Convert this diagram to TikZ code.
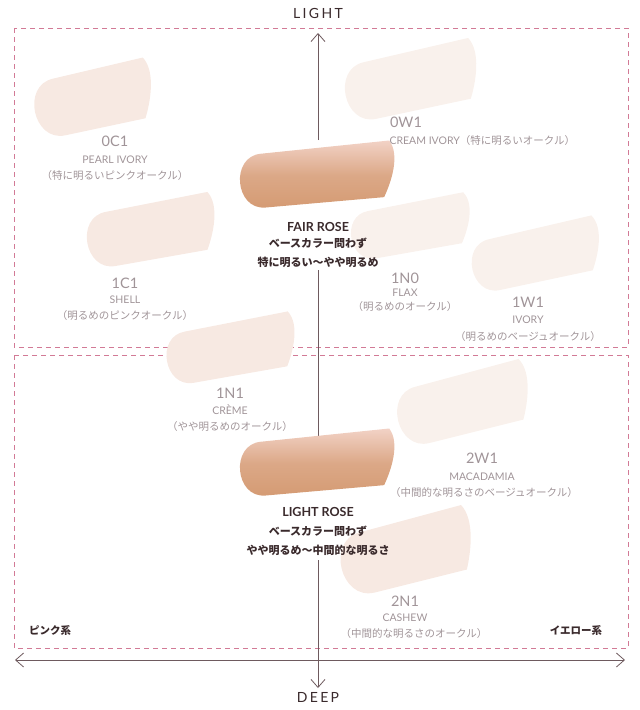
\documentclass[tikz,border=0pt]{standalone}
\usepackage{fontspec}
\setmainfont{Lato}
\newfontfamily\jp{Noto Sans CJK JP}
\usetikzlibrary{arrows.meta}
\definecolor{dash}{HTML}{D27A96}
\definecolor{axis}{HTML}{6E5A5E}
\definecolor{lbl}{HTML}{A09498}
\definecolor{dark}{HTML}{3A2A2C}
\definecolor{sw}{HTML}{F7E9E2}
\definecolor{swb}{HTML}{F9F1EC}
\definecolor{rtop}{HTML}{F2D2C6}
\definecolor{rbot}{HTML}{D49A72}
\newcommand\swatch[6]{% x y w h rot style
\begin{scope}[shift={(#1,#2)},rotate=#5]
\path[#6] (-#3/2+#4/2,-#4/2) -- (#3/2-4,-#4/2-2)
 .. controls (#3/2+6,-#4/4) and (#3/2-6,#4/4) .. (#3/2-14,#4/2)
 -- (-#3/2+#4/2,#4/2)
 .. controls (-#3/2-4,#4/2) and (-#3/2-4,-#4/2) .. cycle;
\end{scope}}
\tikzset{
 dbox/.style={draw=dash,dash pattern=on 5pt off 4pt,line width=1pt},
 ax/.style={draw=axis,line width=0.8pt,<->,>={Straight Barb[length=8pt,width=14pt]}},
 code/.style={text=lbl,font=\fontsize{14.5}{14}\selectfont},
 nm/.style={text=lbl,font=\fontsize{10.5}{10}\selectfont},
 jl/.style={text=lbl,font=\jp\fontsize{10.5}{11}\selectfont},
 bt/.style={text=dark,font=\bfseries\fontsize{12.5}{13}\selectfont},
 bj/.style={text=dark,font=\jp\bfseries\fontsize{11}{12}\selectfont},
 ttl/.style={text=dark,font=\fontsize{14}{14}\selectfont},
 light/.style={fill=sw},
 lighter/.style={fill=swb},
 rose/.style={top color=rtop,bottom color=rbot,middle color=rbot!75!rtop}
}
\begin{document}
\begin{tikzpicture}[x=1pt,y=-1pt]
\useasboundingbox (0,0) rectangle (640,710);
\draw[dbox] (14,28) rectangle (628,347);
\draw[dbox] (14,355) rectangle (628,648);
\coordinate (t) at (318,33); \coordinate (b) at (318,688);
\coordinate (l) at (15,660); \coordinate (r) at (625,660);
% swatches
\swatch{92}{100}{125}{58}{12}{light}
\swatch{410}{82}{140}{58}{12}{lighter}
\swatch{150}{232}{135}{55}{10}{light}
\swatch{410}{228}{125}{48}{10}{lighter}
\swatch{535}{256}{135}{52}{12}{lighter}
\swatch{230}{350}{135}{52}{10}{light}
\swatch{462}{405}{140}{58}{14}{lighter}
\swatch{405}{553}{140}{62}{14}{light}
\draw[ax,-{Straight Barb[length=8pt,width=14pt]}] (318,140) -- (t);
\draw[ax,-{Straight Barb[length=8pt,width=14pt]}] (318,560) -- (b);
\draw[axis,line width=0.8pt] (318,270) -- (318,445);
\draw[ax] (l) -- (r);
\swatch{316}{176}{160}{54}{5}{rose}
\swatch{316}{464}{160}{54}{5}{rose}
% axis labels
\node[ttl] (lt) at (318,13) {L\,I\,G\,H\,T};
\node[ttl] (dp) at (318,697) {D\,E\,E\,P};
\node[bj,font=\jp\bfseries\fontsize{10.5}{11}\selectfont] (pk) at (50,631) {ピンク系};
\node[bj,font=\jp\bfseries\fontsize{10.5}{11}\selectfont] (ye) at (576,631) {イエロー系};
% labels
\node[code] (c0c1) at (115,141) {0C1};
\node[nm] (n0c1) at (115,160) {PEARL IVORY};
\node[jl] (j0c1) at (115,176) {（特に明るいピンクオークル）};
\node[code] (c0w1) at (406,122) {0W1};
\node[nm,anchor=west] (n0w1) at (386,141) {CREAM IVORY\jp（特に明るいオークル）};
\node[bt] (fr) at (318,227) {FAIR ROSE};
\node[bj] (fr2) at (318,243) {ベースカラー問わず};
\node[bj] (fr3) at (318,262) {特に明るい〜やや明るめ};
\node[code] (c1c1) at (125,283) {1C1};
\node[nm] (n1c1) at (125,300) {SHELL};
\node[jl] (j1c1) at (125,316) {（明るめのピンクオークル）};
\node[code] (c1n0) at (405,278) {1N0};
\node[nm] (n1n0) at (405,293) {FLAX};
\node[jl] (j1n0) at (405,307) {（明るめのオークル）};
\node[code] (c1w1) at (528,302) {1W1};
\node[nm] (n1w1) at (528,320) {IVORY};
\node[jl] (j1w1) at (528,337) {（明るめのベージュオークル）};
\node[code] (c1n1) at (230,393) {1N1};
\node[nm] (n1n1) at (230,410) {CRÈME};
\node[jl] (j1n1) at (230,427) {（やや明るめのオークル）};
\node[code] (c2w1) at (482,458) {2W1};
\node[nm] (n2w1) at (482,477) {MACADAMIA};
\node[jl] (j2w1) at (484,493) {（中間的な明るさのベージュオークル）};
\node[bt] (lr) at (318,512) {LIGHT ROSE};
\node[bj] (lr2) at (318,531) {ベースカラー問わず};
\node[bj] (lr3) at (318,550) {やや明るめ〜中間的な明るさ};
\node[code] (c2n1) at (405,601) {2N1};
\node[nm] (n2n1) at (405,618) {CASHEW};
\node[jl] (j2n1) at (414,634) {（中間的な明るさのオークル）};
\end{tikzpicture}
\end{document}
